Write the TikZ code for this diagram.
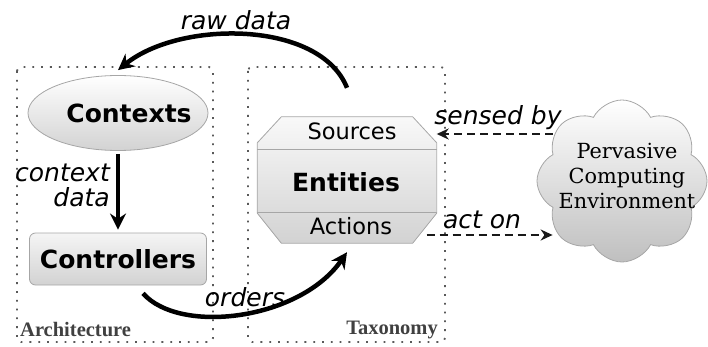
\documentclass[tikz,border=0pt]{standalone}
\usepackage{fontspec}
\setmainfont{DejaVu Sans}
\newfontfamily\cloudfont{DejaVu Serif}
\newfontfamily\areafont{Liberation Serif}
\usetikzlibrary{arrows.meta,positioning,shapes,shapes.symbols}

\begin{document}
\begin{tikzpicture}[x=1pt,y=-1pt]
		\tikzstyle{area}=[draw=gray!70!black,line width=1.8pt,dash pattern=on 1.8pt off 7pt,rounded corners=4pt]
		\tikzstyle{arealabel}=[font=\areafont\bfseries\fontsize{20.5}{22}\selectfont,text=black!75,inner sep=0pt]
		\tikzstyle{context}=[ellipse,draw=gray!70,thick,top color=white,bottom color=gray!35,minimum width=180pt,minimum height=75pt,inner sep=0pt]
		\tikzstyle{controller}=[rectangle,rounded corners=6pt,draw=gray!70,thick,top color=gray!8,bottom color=gray!35,minimum width=177pt,minimum height=52pt,font=\bfseries\fontsize{25}{30}\selectfont]
		\tikzstyle{entity}=[draw=gray!70,thick,top color=gray!5,bottom color=gray!35]
		\tikzstyle{part}=[font=\fontsize{22.5}{26}\selectfont,inner sep=0pt]
		\tikzstyle{env}=[cloud,cloud puffs=8,cloud puff arc=125,aspect=1.05,draw=gray!70,thick,top color=white,bottom color=gray!50,minimum width=170pt,minimum height=162pt,inner sep=0pt]
		\tikzstyle{flow}=[line width=4.5pt,-{Stealth[length=16pt,width=16pt]}]
		\tikzstyle{link}=[draw=gray!20!black,line width=2.5pt,dash pattern=on 8pt off 5pt,-{Stealth[length=12pt,width=11pt]}]
		\tikzstyle{edgelabel}=[font=\itshape\fontsize{25}{25}\selectfont,inner sep=0pt,align=right]
		
		\useasboundingbox (0,0) rectangle (708,347);
		
		% Architecture
		\draw [area] (17,67) rectangle (213,342);
		\node[arealabel, anchor=base west] (archlabel) at (20,336) {Architecture};
		
		\node[context] (ctx) at (118,113) {};
		\node[font=\bfseries\fontsize{25}{30}\selectfont,inner sep=0pt] (ctxtext) at (129,113) {Contexts};
		\node[controller] (ctrl) at (118,259) {Controllers};
		\draw [flow] ([yshift=-3pt]ctx.south) -- ([yshift=3pt]ctrl.north);
		\node[edgelabel, anchor=east] (ctxdata) at (110,185) {context\\data};
		
		% Taxonomy
		\draw [area] (248,67) rectangle (445,342);
		\node[arealabel, anchor=base east] (taxlabel) at (438,334) {Taxonomy};
		
		\node[minimum width=179pt,minimum height=126pt,inner sep=0pt] (ent) at (347,180) {};
		\path [entity] ([yshift=-26pt]ent.north west) -- ([xshift=24pt]ent.north west) -- ([xshift=-24pt]ent.north east) -- ([yshift=-26pt]ent.north east)
			-- ([yshift=30pt]ent.south east) -- ([xshift=-24pt]ent.south east) -- ([xshift=24pt]ent.south west) -- ([yshift=30pt]ent.south west) -- cycle;
		\draw [draw=gray!70,thick] ([yshift=31pt]ent.west) -- ([yshift=31pt]ent.east);
		\draw [draw=gray!70,thick] ([yshift=-32pt]ent.west) -- ([yshift=-32pt]ent.east);
		\node[part] (src) at (352,131) {Sources};
		\node[part, font=\bfseries\fontsize{25}{30}\selectfont] (enttext) at (346,182) {Entities};
		\node[part] (act) at (351,226) {Actions};
		
		% Environment
		\node[env] (world) at (622,181) {};
		\node[align=center,font=\cloudfont\fontsize{20.8}{25}\selectfont,inner sep=0pt] (worldtext) at (627,176) {Pervasive\\Computing\\Environment};
		
		\draw [link] ([xshift=16pt,yshift=47pt]world.west) -- ([yshift=46pt]ent.east);
		\node[edgelabel] (sensed) at (498,118) {sensed by};
		\draw [link] ([xshift=-10pt,yshift=-55pt]ent.east) -- ([xshift=16pt,yshift=-54pt]world.west);
		\node[edgelabel] (acton) at (482,220) {act on};
		
		% Loop
		\draw [flow] ([yshift=29pt]ent.north) .. controls (320,20) and (180,20) .. ([yshift=5pt]ctx.north);
		\node[edgelabel] (raw) at (236,20) {raw data};
		\draw [flow] ([xshift=25pt,yshift=-8pt]ctrl.south) .. controls (180,335) and (300,320) .. ([yshift=-9pt]ent.south);
		\node[edgelabel] (orders) at (245,297) {orders};
\end{tikzpicture}
\end{document}
